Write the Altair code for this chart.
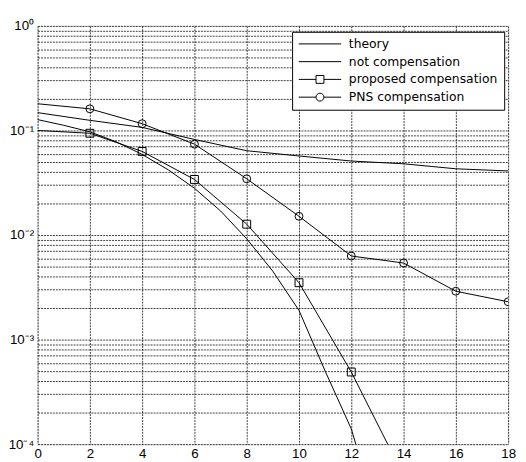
import altair as alt
import pandas as pd

series_names = ["theory", "not compensation", "proposed compensation", "PNS compensation"]

theory_x = [0, 1, 2, 3, 4, 5, 6, 7, 8, 9, 10, 11, 12, 13]
theory_ber = [0.127, 0.112, 0.097, 0.078, 0.059, 0.042, 0.028, 0.017, 0.0092, 0.0045,
              0.0019, 0.0005, 0.00014, 0.00002]

notcomp_x = [0, 2, 4, 6, 8, 10, 12, 14, 16, 18]
notcomp_ber = [0.148, 0.125, 0.107, 0.082, 0.064, 0.057, 0.051, 0.048, 0.043, 0.041]

proposed_x = [0, 2, 4, 6, 8, 10, 12, 14]
proposed_ber = [0.10, 0.094, 0.063, 0.034, 0.0127, 0.0035, 0.00049, 0.00005]

pns_x = [0, 2, 4, 6, 8, 10, 12, 14, 16, 18]
pns_ber = [0.18, 0.161, 0.116, 0.074, 0.0345, 0.0151, 0.0063, 0.0054, 0.0029, 0.0023]

x_ticks = [0, 2, 4, 6, 8, 10, 12, 14, 16, 18]
y_major = [0.0001, 0.001, 0.01, 0.1, 1]
y_tick_labels = ["10⁻⁴", "10⁻³", "10⁻²", "10⁻¹", "10⁰"]

rows = []
for name, xs, ys in [
    (series_names[0], theory_x, theory_ber),
    (series_names[1], notcomp_x, notcomp_ber),
    (series_names[2], proposed_x, proposed_ber),
    (series_names[3], pns_x, pns_ber),
]:
    for xv, yv in zip(xs, ys):
        rows.append({"x": xv, "ber": yv, "series": name})
df = pd.DataFrame(rows)

# grid values: 1..9 x 10^k
y_grid = []
for k in range(-4, 0):
    for m in range(1, 10):
        y_grid.append(float(f"{m}e{k}"))
y_grid.append(1.0)

label_expr = "''"
for v, lab in zip(y_major, y_tick_labels):
    label_expr = f"abs(datum.value - {v}) < {v}*1e-6 ? '{lab}' : ({label_expr})"

FONT = "Liberation Sans"
LEG_FONT = "DejaVu Sans"

x_enc = alt.X("x:Q", scale=alt.Scale(domain=[0, 18], nice=False),
              axis=alt.Axis(values=x_ticks, title=None, grid=True, ticks=False, domain=False,
                            labelFont=FONT, labelFontSize=13.5, labelColor="black",
                            labelPadding=3, gridColor="black", gridDash=[2, 1],
                            gridOpacity=0.75, labelFlush=False))
y_enc = alt.Y("ber:Q", scale=alt.Scale(type="log", domain=[0.0001, 1], nice=False),
              axis=alt.Axis(values=y_grid, title=None, grid=True, ticks=False, domain=False,
                            labelExpr=label_expr, labelOverlap=False, labelFlush=False,
                            labelFont=FONT, labelFontSize=13.5, labelColor="black",
                            labelPadding=4, gridColor="black", gridDash=[2, 1],
                            gridOpacity=0.75))

L = 4.3
r = 0.8
line_path = f"M-{L},0L{L},0"
sq_path = f"M-{L},0L-{r},0M{r},0L{L},0M-{r},-{r}L{r},-{r}L{r},{r}L-{r},{r}Z"
circ_path = (f"M-{L},0L-{r},0M{r},0L{L},0M-{r},0A{r},{r} 0 1,0 {r},0A{r},{r} 0 1,0 -{r},0")

legend = alt.Legend(
    orient="none", legendX=258, legendY=6, title=None,
    fillColor="white", strokeColor="black", padding=6, cornerRadius=0,
    labelFont=LEG_FONT, labelFontSize=12.5, labelColor="black", labelLimit=300,
    symbolSize=100, symbolOffset=16, labelOffset=23, rowPadding=5,
    symbolStrokeColor="black", symbolStrokeWidth=1, symbolOpacity=1,
    symbolFillColor="transparent",
    zindex=1,
)

lines = alt.Chart(df).mark_line(clip=True, strokeWidth=1, color="black").encode(
    x=x_enc, y=y_enc, detail="series:N",
)

legend_layer = alt.Chart(df).mark_point(filled=False, opacity=0, size=100, color="black",
                                        clip=True).encode(
    x="x:Q", y="ber:Q",
    shape=alt.Shape("series:N",
                    scale=alt.Scale(domain=series_names,
                                    range=[line_path, line_path, sq_path, circ_path]),
                    legend=legend),
)

squares = alt.Chart(df).transform_filter(
    (alt.datum.series == series_names[2]) & (alt.datum.x > 0)
).mark_point(shape="square", filled=False, size=64, color="black", strokeWidth=1,
             clip=True, opacity=1).encode(x="x:Q", y="ber:Q")

circles = alt.Chart(df).transform_filter(
    (alt.datum.series == series_names[3]) & (alt.datum.x > 0)
).mark_point(shape="circle", filled=False, size=64, color="black", strokeWidth=1,
             clip=True, opacity=1).encode(x="x:Q", y="ber:Q")

chart = alt.layer(lines, squares, circles, legend_layer).properties(
    width=477, height=424,
    autosize=alt.AutoSizeParams(type="none"),
    padding={"left": 30, "top": 15, "right": 10, "bottom": 18},
).configure_view(stroke="black", strokeWidth=1).configure(background="white")

chart.save("out.html", embed_options={"renderer": "svg", "actions": False})
